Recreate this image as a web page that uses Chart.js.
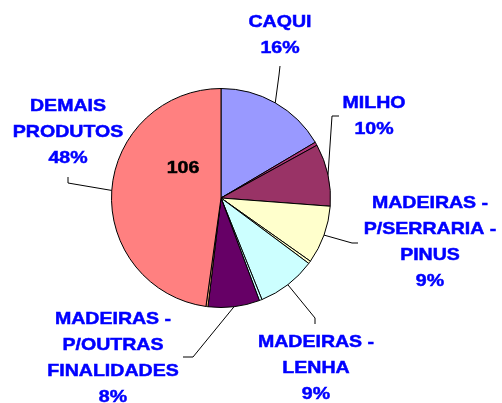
<!DOCTYPE html>
<html>
<head>
<meta charset="utf-8">
<script src="https://cdn.jsdelivr.net/npm/chart.js@4.4.0/dist/chart.umd.min.js"></script>
<style>
html, body { margin: 0; padding: 0; background: #fff; }
#wrap { width: 502px; height: 403px; }
</style>
</head>
<body>
<div id="wrap"><canvas id="pieChart" width="502" height="403"></canvas></div>
<script>
// slices clockwise from 12 o'clock (the unnamed ones are the thin slivers)
const categories = [
    ['CAQUI'],
    [],
    ['MILHO'],
    ['MADEIRAS -', 'P/SERRARIA -', 'PINUS'],
    [],
    ['MADEIRAS -', 'LENHA'],
    [],
    ['MADEIRAS -', 'P/OUTRAS', 'FINALIDADES'],
    [],
    ['DEMAIS', 'PRODUTOS']
];
const shares = [16.5, 0.5, 9.2, 8.6, 0.4, 8.7, 0.4, 7.6, 0.3, 47.8];
const percentLabels = ['16%', '', '10%', '9%', '', '9%', '', '8%', '', '48%'];
const valueLabel = '106';

const sliceColors = ['#9999ff', '#b0357a', '#993366', '#ffffcc', '#ffffcc', '#ccffff', '#ccffff', '#660066', '#ffb080', '#ff8080'];

// where each label block sits and how its leader line bends
const labelLayout = {
    0: { x: 280, y: 21, line: [[280, 66], [279, 75]] },
    2: { x: 374, y: 102, line: [[339, 116], [332, 116]] },
    3: { x: 430, y: 202, line: [[358, 243], [352, 243]] },
    5: { x: 316, y: 341, line: [[315, 324], [315, 318]] },
    7: { x: 113, y: 318, line: [[183, 357], [193, 357]] },
    9: { x: 68, y: 105, line: [[68, 177], [68, 183]] }
};
const lineGap = 26;
const font = 'bold 17px "Liberation Sans", Arial, sans-serif';

function drawText(c, text, x, y) {
    c.save();
    c.translate(x, y);
    c.scale(1.15, 1);
    c.fillText(text, 0, 0);
    c.lineWidth = 0.5;
    c.strokeStyle = c.fillStyle;
    c.strokeText(text, 0, 0);
    c.restore();
}

const labelPlugin = {
    id: 'pieLabels',
    afterDatasetsDraw(chart) {
        const c = chart.ctx;
        const meta = chart.getDatasetMeta(0);
        c.save();
        c.strokeStyle = '#000';
        c.lineWidth = 1;
        Object.keys(labelLayout).forEach((k) => {
            const i = +k;
            const lay = labelLayout[i];
            const arc = meta.data[i].getProps(['x', 'y', 'startAngle', 'endAngle', 'outerRadius'], true);
            const mid = (arc.startAngle + arc.endAngle) / 2;
            const ax = arc.x + Math.cos(mid) * arc.outerRadius;
            const ay = arc.y + Math.sin(mid) * arc.outerRadius;
            c.beginPath();
            c.moveTo(lay.line[0][0], lay.line[0][1]);
            c.lineTo(lay.line[1][0], lay.line[1][1]);
            c.lineTo(ax, ay);
            c.stroke();
        });

        c.font = font;
        c.textAlign = 'center';
        c.textBaseline = 'alphabetic';
        c.fillStyle = '#0000ff';
        Object.keys(labelLayout).forEach((k) => {
            const i = +k;
            const lay = labelLayout[i];
            const lines = categories[i].concat([percentLabels[i]]);
            lines.forEach((t, n) => {
                drawText(c, t, lay.x, lay.y + n * lineGap + 6);
            });
        });

        c.fillStyle = '#000';
        drawText(c, valueLabel, 183, 173);
        c.restore();
    }
};

const ctx = document.getElementById('pieChart');

var chart = {
    type: 'pie',
    data: {
        labels: categories.map((l) => l.join(' ')),
        datasets: [{
            data: shares,
            backgroundColor: sliceColors,
            borderColor: '#000000',
            borderWidth: 1,
            hoverOffset: 0
        }]
    },
    options: {
        responsive: false,
        devicePixelRatio: 1,
        animation: false,
        layout: {
            padding: { left: 111, right: 171, top: 88, bottom: 95 }
        },
        plugins: {
            legend: { display: false },
            tooltip: { enabled: false }
        }
    },
    plugins: [labelPlugin]
};

let chart1 = new Chart(ctx, chart);
</script>
</body>
</html>
